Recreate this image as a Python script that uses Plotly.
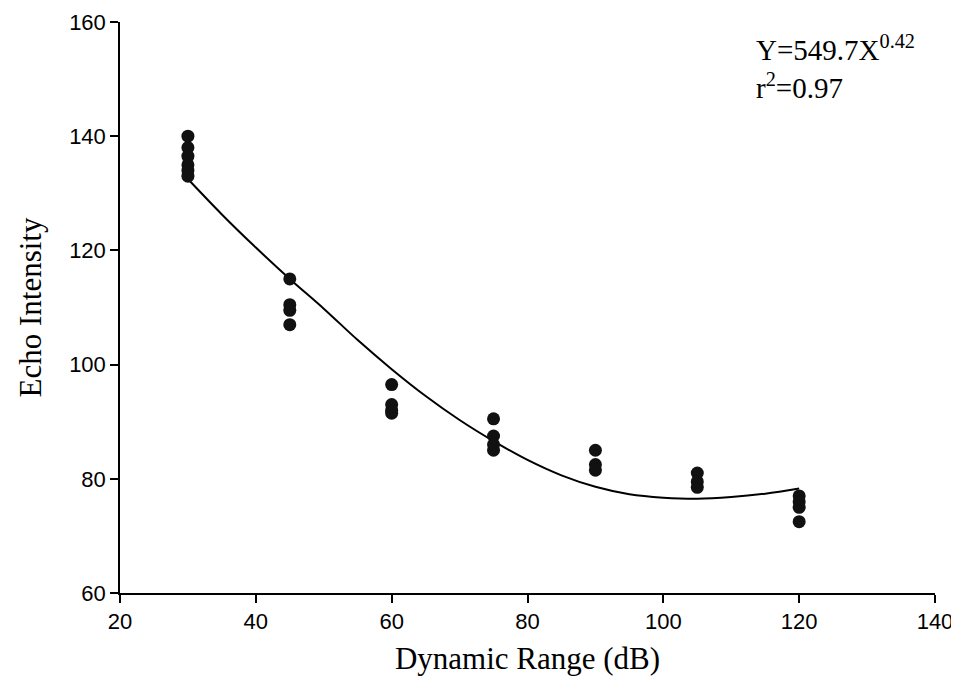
import plotly.graph_objects as go

# Data points (Dynamic Range dB, Echo Intensity)
pts_x = [30, 30, 30, 30, 30, 30,
         45, 45, 45, 45,
         60, 60, 60, 60,
         75, 75, 75, 75,
         90, 90, 90,
         105, 105, 105,
         120, 120, 120, 120]
pts_y = [140, 138, 136.5, 135, 134, 133,
         115, 110.5, 109.5, 107,
         96.5, 93, 92, 91.5,
         90.5, 87.5, 86, 85,
         85, 82.5, 81.5,
         81, 79.5, 78.5,
         77, 76, 75, 72.5]

# Fitted curve
curve_x = [30, 35, 40, 45, 50, 55, 60, 65, 70, 75, 80, 85, 90, 95, 100, 105, 110, 115, 120]
curve_y = [132.5, 126.3, 120.5, 115, 109.8, 104.3, 99.2, 94.5, 90.3, 86.6, 83.3, 80.6, 78.6, 77.3, 76.7, 76.5, 76.8, 77.4, 78.3]

x_ticks = [20, 40, 60, 80, 100, 120, 140]
y_ticks = [60, 80, 100, 120, 140, 160]

fig = go.Figure()
fig.add_trace(go.Scatter(x=curve_x, y=curve_y, mode="lines",
                         line=dict(color="black", width=2, shape="spline"),
                         showlegend=False, hoverinfo="skip"))
fig.add_trace(go.Scatter(x=pts_x, y=pts_y, mode="markers",
                         marker=dict(color="#111111", size=13),
                         showlegend=False))

fig.add_annotation(x=0.778, y=1.0, xref="paper", yref="paper",
                   xanchor="left", yanchor="top", align="left",
                   text="Y=549.7X<sup>0.42</sup><br>r<sup>2</sup>=0.97",
                   showarrow=False,
                   font=dict(family="Liberation Serif", size=29, color="black"),
                   yshift=-6)

fig.update_layout(
    width=959, height=693,
    margin=dict(l=112, r=32, t=14, b=108, autoexpand=False),
    paper_bgcolor="white", plot_bgcolor="white",
    xaxis=dict(range=[20, 140], tickvals=x_ticks, ticks="outside", ticklen=8,
               showline=True, linecolor="black", linewidth=1.5, showgrid=False,
               zeroline=False, tickcolor="black", tickwidth=1.5, automargin=False,
               tickfont=dict(family="Liberation Sans", size=22, color="black"),
               title=dict(text="Dynamic Range (dB)", standoff=14,
                          font=dict(family="Liberation Serif", size=31, color="black"))),
    yaxis=dict(range=[60, 160], tickvals=y_ticks, ticks="outside", ticklen=8,
               showline=True, linecolor="black", linewidth=1.5, showgrid=False,
               zeroline=False, tickcolor="black", tickwidth=1.5, automargin=False,
               tickfont=dict(family="Liberation Sans", size=22, color="black"),
               title=dict(text="Echo Intensity", standoff=18,
                          font=dict(family="Liberation Serif", size=31, color="black"))),
)

fig.write_html("out.html")
